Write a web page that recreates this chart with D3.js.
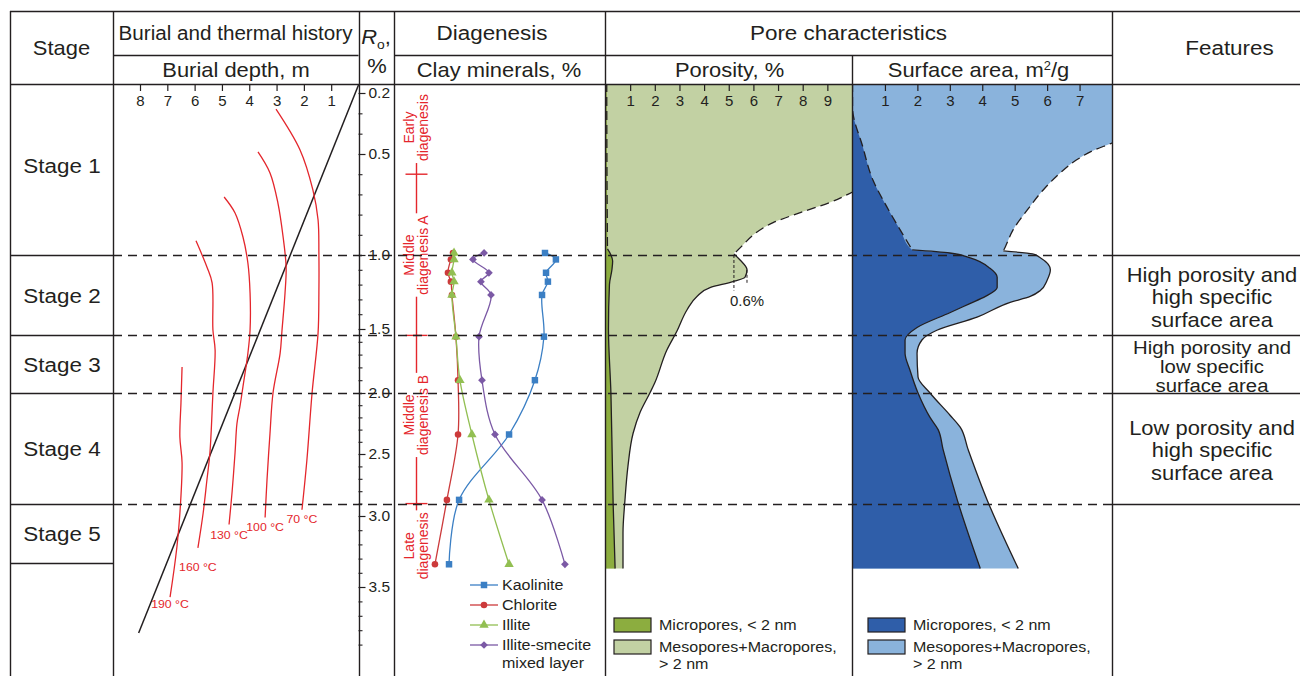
<!DOCTYPE html>
<html>
<head>
<meta charset="utf-8">
<script src="https://cdn.jsdelivr.net/npm/d3@7"></script>
<style>
  body { margin: 0; background: #fff; }
  svg { display: block; font-family: "Liberation Sans", Arial, sans-serif; }
</style>
</head>
<body>
<svg id="chart" width="1300" height="676"></svg>
<script>
// ---------- data ----------
const stageNames = ["Stage 1", "Stage 2", "Stage 3", "Stage 4", "Stage 5"];
const stageRo = [0.15, 1.0, 1.55, 2.0, 2.9, 3.33];
const features = [
  [],
  ["High porosity and", "high specific", "surface area"],
  ["High porosity and", "low specific", "surface area"],
  ["Low porosity and", "high specific", "surface area"],
  []
];

const roMajor = [0.2, 0.5, 1.0, 1.5, 2.0, 2.5, 3.0, 3.5];
const depthTicks = [1, 2, 3, 4, 5, 6, 7, 8];
const porosityTicks = [1, 2, 3, 4, 5, 6, 7, 8, 9];
const surfaceTicks = [1, 2, 3, 4, 5, 6, 7];

// burial curve, [depth, Ro]
const burialLine = [[0, 0.16], [8.05, 3.82]];

// isotherms, [depth, Ro]
const isotherms = [
  { label: "70 °C", labelRo: 3.02, pts: [[3.02, 0.279], [2.14, 0.48], [1.67, 0.678], [1.48, 0.827], [1.45, 0.99], [1.45, 1.257], [1.48, 1.53], [1.70, 2.0], [1.89, 2.55], [2.07, 2.95]] },
  { label: "100 °C", labelRo: 3.08, pts: [[3.68, 0.49], [3.24, 0.594], [2.95, 0.743], [2.76, 0.911], [2.65, 1.081], [2.69, 1.257], [2.80, 1.508], [2.87, 1.69], [3.13, 2.0], [3.24, 2.33], [3.35, 2.71], [3.42, 3.01]] },
  { label: "130 °C", labelRo: 3.135, pts: [[4.92, 0.713], [4.52, 0.792], [4.23, 0.911], [4.05, 1.054], [3.97, 1.257], [3.97, 1.508], [4.05, 1.69], [4.23, 1.95], [4.34, 2.11], [4.45, 2.25], [4.52, 2.49], [4.63, 2.81], [4.74, 3.06]] },
  { label: "160 °C", labelRo: 3.36, pts: [[5.95, 0.93], [5.55, 1.081], [5.36, 1.189], [5.33, 1.508], [5.25, 1.664], [5.33, 2.0], [5.44, 2.49], [5.55, 2.71], [5.69, 2.98], [5.88, 3.225]] },
  { label: "190 °C", labelRo: 3.62, pts: [[6.46, 1.797], [6.50, 2.08], [6.54, 2.36], [6.46, 2.57], [6.54, 2.98], [6.65, 3.22], [6.90, 3.57]] }
];

// diagenetic stages on the Ro scale
const diaStages = [
  { lines: ["Early", "diagenesis"], from: 0.2, to: 0.6, mid: 0.37 },
  { lines: ["Middle", "diagenesis A"], from: 0.6, to: 1.55, mid: 1.0 },
  { lines: ["Middle", "diagenesis B"], from: 1.55, to: 2.9, mid: 2.18 },
  { lines: ["Late", "diagenesis"], from: 2.9, to: 3.35, mid: 3.21 }
];
const diaBounds = [0.6, 1.55, 2.9];

// clay minerals, %
const clayRo = [0.99, 1.03, 1.12, 1.18, 1.27, 1.56, 1.90, 2.34, 2.87, 3.34];
const kaolinite = [53.8, 59.0, 54.3, 55.2, 52.4, 53.3, 49.0, 36.7, 12.9, 8.1];
const chlorite = [10.0, 9.0, 7.6, 9.0, 9.5, 11.4, 12.4, 12.4, 7.1, 1.4];
const illite = [10.5, 10.5, 9.5, 10.5, 9.5, 11.4, 13.3, 19.0, 27.1, 36.7];
const illiteSmectite = [24.8, 19.5, 27.1, 23.3, 28.1, 22.4, 23.8, 30.0, 52.4, 63.3];

// porosity, % : [Ro, value]
const porTotalInferred = [[0.15, 11.2], [0.62, 11.2], [0.69, 10], [0.74, 9.1], [0.79, 7.9], [0.84, 6.8], [0.90, 6.0], [0.955, 5.54], [0.995, 5.21]];
const porTotalMeasured = [[0.995, 5.21], [1.034, 5.46], [1.10, 5.74], [1.15, 5.66], [1.18, 5.17], [1.22, 4.24], [1.28, 3.71], [1.37, 3.31], [1.516, 2.9], [1.664, 2.49], [1.92, 2.0], [2.0, 1.8], [2.16, 1.4], [2.33, 1.12], [2.6, 0.91], [2.87, 0.79], [3.12, 0.71], [3.37, 0.71]];
const porMicroInferred = [[0.15, 0.05], [0.6, 0.06], [0.97, 0.08]];
const porMicroMeasured = [[0.97, 0.08], [1.0, 0.22], [1.04, 0.29], [1.1, 0.26], [1.2, 0.16], [1.5, 0.12], [2.0, 0.22], [2.5, 0.27], [2.9, 0.31], [3.37, 0.39]];
const bumpLeft = [5.21, 1.0, 1.24];   // value, Ro top, Ro bottom
const bumpRight = [5.74, 1.10, 1.19];

// surface area, m2/g : [Ro, value]
const saTotalInferred = [[0.15, 8.8], [0.38, 8.8], [0.446, 8.0], [0.48, 7.46], [0.53, 6.9], [0.594, 6.4], [0.678, 5.88], [0.777, 5.39], [0.876, 4.95], [0.96, 4.71], [0.98, 4.65]];
const saTotalMeasured = [[0.98, 4.65], [0.995, 5.55], [1.02, 5.8], [1.10, 6.1], [1.17, 6.0], [1.24, 5.79], [1.28, 5.48], [1.32, 4.86], [1.42, 3.84], [1.51, 2.60], [1.586, 2.14], [1.69, 1.99], [1.875, 2.02], [2.0, 2.39], [2.18, 3.0], [2.28, 3.32], [2.46, 3.56], [2.87, 4.15], [3.37, 5.11]];
const saMicroInferred = [[0.15, 0], [0.269, 0], [0.466, 0.32], [0.629, 0.63], [0.762, 1.06], [0.876, 1.47], [0.975, 1.84]];
const saMicroMeasured = [[0.975, 1.84], [0.99, 3.0], [1.02, 3.63], [1.09, 4.24], [1.15, 4.46], [1.22, 4.46], [1.28, 4.1], [1.33, 3.6], [1.39, 3.0], [1.49, 1.99], [1.586, 1.62], [1.69, 1.62], [1.82, 1.77], [2.0, 2.02], [2.20, 2.39], [2.30, 2.64], [2.46, 2.79], [2.87, 3.23], [3.37, 3.94]];

// ---------- layout ----------
const W = 1300, H = 676;
const ink = "#231f20";
const red = "#e4262c";
const SX = 1.07;   // the original lettering is a bit wide
const col = { left: 10, stage: 113, burial: 358.5, ro: 394, dia: 605, por: 852, sa: 1112, right: 1300 };
const rowTop = 11, rowMid = 55, rowBot = 84;

// Ro axis is not linear in the figure, so use a piecewise scale
const y = d3.scaleLinear()
  .domain([0.15, 0.2, 0.5, 1.0, 1.5, 2.0, 2.5, 3.0, 3.5, 4.0])
  .range([83, 93, 154, 255, 329, 393, 454, 516, 587, 659]);

const xDepth = d3.scaleLinear().domain([0, 8]).range([358.5, 140]);
const xClay = d3.scaleLinear().domain([0, 100]).range([432, 642]);
const xPor = d3.scaleLinear().domain([0, 10]).range([605.5, 852]);
const xSA = d3.scaleLinear().domain([0, 8]).range([852.5, 1112]);

// keep 1px rules sharp
const snap = v => Math.round(v) + 0.5;

const svg = d3.select("#chart");
svg.append("rect").attr("width", W).attr("height", H).attr("fill", "#fff");
const defs = svg.append("defs");

function txt(parent, x, yy, s, size, anchor = "middle", color = ink) {
  return parent.append("text")
    .attr("transform", `translate(${x},${yy}) scale(${SX},1)`)
    .attr("text-anchor", anchor)
    .attr("dy", "0.35em")
    .attr("font-size", size)
    .attr("fill", color)
    .text(s);
}

function clip(id, x0, x1) {
  defs.append("clipPath").attr("id", id).append("rect")
    .attr("x", x0).attr("y", rowBot).attr("width", x1 - x0).attr("height", H - rowBot);
  return `url(#${id})`;
}

// ---------- pore panels ----------
function porePanel(id, xs, x0, x1, total, micro, colors) {
  const g = svg.append("g").attr("clip-path", clip(id, x0, x1));
  const area = d3.area().curve(d3.curveMonotoneY)
    .y(d => y(d[0])).x0(xs(0)).x1(d => xs(d[1]));
  const line = d3.line().curve(d3.curveMonotoneY)
    .y(d => y(d[0])).x(d => xs(d[1]));
  const join = (a, b) => a.concat(b.slice(1));

  g.append("path").attr("d", area(join(total[0], total[1]))).attr("fill", colors[1]);
  g.append("path").attr("d", area(join(micro[0], micro[1]))).attr("fill", colors[0]);

  [total, micro].forEach(s => {
    g.append("path").attr("d", line(s[0]))
      .attr("fill", "none").attr("stroke", ink).attr("stroke-width", 1.3)
      .attr("stroke-dasharray", "9,5");
    g.append("path").attr("d", line(s[1]))
      .attr("fill", "none").attr("stroke", ink).attr("stroke-width", 1.3);
  });
  return g;
}

const porG = porePanel("clipPor", xPor, col.dia, col.por,
  [porTotalInferred, porTotalMeasured], [porMicroInferred, porMicroMeasured],
  ["#8cad3f", "#c2d1a3"]);
porePanel("clipSA", xSA, col.por, col.sa,
  [saTotalInferred, saTotalMeasured], [saMicroInferred, saMicroMeasured],
  ["#2f5ea9", "#8ab3dc"]);

// 0.6% annotation
[bumpLeft, bumpRight].forEach(b => {
  porG.append("line")
    .attr("x1", xPor(b[0])).attr("x2", xPor(b[0]))
    .attr("y1", y(b[1])).attr("y2", y(b[2]))
    .attr("stroke", ink).attr("stroke-width", 1).attr("stroke-dasharray", "3,2");
});
txt(svg, xPor(bumpLeft[0]) - 4, y(bumpLeft[2]) + 11, "0.6%", 14, "start");

// ---------- burial and thermal history ----------
const burial = svg.append("g");
burial.append("path")
  .attr("d", d3.line().x(d => xDepth(d[0])).y(d => y(d[1]))(burialLine))
  .attr("fill", "none").attr("stroke", ink).attr("stroke-width", 1.5);

const isoLine = d3.line().curve(d3.curveCatmullRom)
  .x(d => xDepth(d[0])).y(d => y(d[1]));
isotherms.forEach(iso => {
  burial.append("path").attr("d", isoLine(iso.pts))
    .attr("fill", "none").attr("stroke", red).attr("stroke-width", 1.3);
  const last = iso.pts[iso.pts.length - 1];
  txt(burial, xDepth(last[0]), y(iso.labelRo), iso.label, 11.5, "middle", red);
});

// ---------- diagenesis ----------
const dia = svg.append("g");
const diaX = 416.5;
diaStages.forEach(st => {
  const g = dia.append("g").attr("transform", `translate(${diaX},${y(st.mid)}) rotate(-90)`);
  let len = 0;
  st.lines.forEach((l, i) => {
    const t = g.append("text")
      .attr("x", 0).attr("y", i === 0 ? -3 : 11)
      .attr("text-anchor", "middle")
      .attr("font-size", 14).attr("fill", red)
      .text(l);
    len = Math.max(len, t.node().getComputedTextLength());
  });
  const top = y(st.mid) - len / 2 - 2, bot = y(st.mid) + len / 2 + 2;
  if (top > y(st.from)) {
    dia.append("line").attr("x1", diaX).attr("x2", diaX).attr("y1", y(st.from)).attr("y2", top)
      .attr("stroke", red).attr("stroke-width", 1.4);
  }
  if (bot < y(st.to)) {
    dia.append("line").attr("x1", diaX).attr("x2", diaX).attr("y1", bot).attr("y2", y(st.to))
      .attr("stroke", red).attr("stroke-width", 1.4);
  }
});
diaBounds.forEach(r => {
  dia.append("line").attr("x1", diaX - 11).attr("x2", diaX + 11).attr("y1", y(r)).attr("y2", y(r))
    .attr("stroke", red).attr("stroke-width", 1.4);
});

// clay minerals
const claySeries = [
  { name: ["Kaolinite"], values: kaolinite, color: "#3b7fc4", symbol: d3.symbolSquare, size: 42, rot: 0 },
  { name: ["Chlorite"], values: chlorite, color: "#cc3a3b", symbol: d3.symbolCircle, size: 34, rot: 0 },
  { name: ["Illite"], values: illite, color: "#92bf52", symbol: d3.symbolTriangle, size: 38, rot: 0 },
  { name: ["Illite-smecite", "mixed layer"], values: illiteSmectite, color: "#7b59a5", symbol: d3.symbolSquare, size: 30, rot: 45 }
];
const clayLine = d3.line().curve(d3.curveCatmullRom)
  .x(d => xClay(d[1])).y(d => y(d[0]));
claySeries.forEach((s, k) => {
  const pts = clayRo.map((r, i) => [r, s.values[i]]);
  dia.append("path").attr("d", clayLine(pts))
    .attr("fill", "none").attr("stroke", s.color).attr("stroke-width", 1.3);
  dia.selectAll(null).data(pts).enter().append("path")
    .attr("d", d3.symbol().type(s.symbol).size(s.size))
    .attr("transform", d => `translate(${xClay(d[1])},${y(d[0])}) rotate(${s.rot})`)
    .attr("fill", s.color);

  // legend
  const ly = 585 + k * 20;
  dia.append("line").attr("x1", 470).attr("x2", 498).attr("y1", ly).attr("y2", ly)
    .attr("stroke", s.color).attr("stroke-width", 1.3);
  dia.append("path").attr("d", d3.symbol().type(s.symbol).size(s.size))
    .attr("transform", `translate(484,${ly}) rotate(${s.rot})`).attr("fill", s.color);
  s.name.forEach((n, i) => txt(dia, 502, ly + i * 18, n, 15, "start"));
});

// ---------- stage boundaries ----------
const frame = svg.append("g").attr("stroke", ink).attr("fill", "none");
stageRo.slice(1, -1).forEach(r => {
  frame.append("line").attr("x1", col.stage).attr("x2", col.sa)
    .attr("y1", snap(y(r))).attr("y2", snap(y(r)))
    .attr("stroke-width", 1.3).attr("stroke-dasharray", "9,6");
});

const hline = (x1, x2, yy) => frame.append("line").attr("x1", x1).attr("x2", x2)
  .attr("y1", snap(yy)).attr("y2", snap(yy)).attr("stroke-width", 1.4);
const vline = (xx, y1, y2) => frame.append("line").attr("x1", snap(xx)).attr("x2", snap(xx))
  .attr("y1", y1).attr("y2", y2).attr("stroke-width", 1.4);

hline(col.left, col.right, rowTop);
hline(col.stage, col.burial, rowMid);
hline(col.ro, col.sa, rowMid);
hline(col.left, col.right, rowBot);
[col.left, col.stage, col.burial, col.ro, col.dia, col.sa].forEach(x => vline(x, rowTop, H));
vline(col.por, rowMid, H);
stageRo.slice(1).forEach(r => hline(col.left, col.stage, y(r)));
stageRo.slice(1, -1).forEach(r => hline(col.sa, col.right, y(r)));

// ---------- axes ----------
function topAxis(scale, ticks) {
  const a = svg.append("g").attr("transform", `translate(0,${rowBot})`)
    .call(d3.axisBottom(scale).tickValues(ticks).tickSize(7).tickPadding(4).tickFormat(d3.format("d")));
  a.select(".domain").remove();
  a.selectAll("line").attr("stroke", ink).attr("stroke-width", 1.2);
  a.selectAll("text").attr("font-size", 15).attr("fill", ink)
    .attr("font-family", "Liberation Sans, Arial, sans-serif");
}
topAxis(xDepth, depthTicks);
topAxis(xPor, porosityTicks);
topAxis(xSA, surfaceTicks);

const roMinor = d3.range(2, 40).map(i => i / 10).filter(v => !roMajor.some(m => Math.abs(m - v) < 1e-6));
const roMinorAxis = svg.append("g").attr("transform", `translate(${col.burial},0)`)
  .call(d3.axisRight(y).tickValues(roMinor).tickSize(4).tickFormat(""));
roMinorAxis.select(".domain").remove();
roMinorAxis.selectAll("line").attr("stroke", ink).attr("stroke-width", 1.1);

const roAxis = svg.append("g").attr("transform", `translate(${col.burial},0)`)
  .call(d3.axisRight(y).tickValues(roMajor).tickSize(7).tickPadding(3).tickFormat(d3.format(".1f")));
roAxis.select(".domain").remove();
roAxis.selectAll("line").attr("stroke", ink).attr("stroke-width", 1.2);
roAxis.selectAll("text").attr("font-size", 15.5).attr("fill", ink)
  .attr("font-family", "Liberation Sans, Arial, sans-serif");

// ---------- header ----------
txt(svg, 61.5, 48, "Stage", 20.5);
txt(svg, 235.5, 33, "Burial and thermal history", 19.3);
txt(svg, 236, 70, "Burial depth, m", 20.5);
const roHead = svg.append("text")
  .attr("transform", `translate(376,37) scale(${SX},1)`)
  .attr("text-anchor", "middle").attr("dy", "0.35em").attr("font-size", 20.5).attr("fill", ink);
roHead.append("tspan").attr("font-style", "italic").text("R");
roHead.append("tspan").attr("font-size", 13).attr("dy", 5).text("o");
roHead.append("tspan").attr("dy", -5).text(",");
txt(svg, 377, 66, "%", 20.5);
txt(svg, 492, 33, "Diagenesis", 21);
txt(svg, 499, 70, "Clay minerals, %", 20.5);
txt(svg, 848.5, 33, "Pore characteristics", 21);
txt(svg, 729.5, 70, "Porosity, %", 20.5);
const saHead = svg.append("text")
  .attr("transform", `translate(978.5,70) scale(${SX},1)`)
  .attr("text-anchor", "middle").attr("dy", "0.35em").attr("font-size", 20.5).attr("fill", ink);
saHead.append("tspan").text("Surface area, m");
saHead.append("tspan").attr("font-size", 12).attr("dy", -7).text("2");
saHead.append("tspan").attr("dy", 7).text("/g");
txt(svg, 1229.5, 48, "Features", 21);

// ---------- stage labels and features ----------
stageNames.forEach((s, i) => {
  const y0 = i === 0 ? rowBot : y(stageRo[i]);
  const y1 = y(stageRo[i + 1]);
  const cy = (y0 + y1) / 2;
  txt(svg, 62, i === 0 ? cy - 4 : cy, s, 21);
  const lines = features[i];
  if (lines.length) {
    // the short Stage 3 cell packs its lines tighter, as in the original
    const gap = Math.min(22.5, (y1 - y0) / lines.length);
    const size = gap < 22 ? 19 : 20.5;
    lines.forEach((l, j) => txt(svg, 1212, cy + (j - (lines.length - 1) / 2) * gap + 2, l, size));
  }
});

// ---------- pore legends ----------
function poreLegend(x, colors) {
  const items = [["Micropores, < 2 nm"], ["Mesopores+Macropores,", "> 2 nm"]];
  items.forEach((it, i) => {
    const sy = 618 + i * 22;
    svg.append("rect").attr("x", x).attr("y", sy).attr("width", 37).attr("height", 14)
      .attr("fill", colors[i]).attr("stroke", ink).attr("stroke-width", 1.2);
    it.forEach((t, j) => txt(svg, x + 45, sy + 7 + j * 17, t, 15, "start"));
  });
}
poreLegend(614, ["#8cad3f", "#c2d1a3"]);
poreLegend(868, ["#2f5ea9", "#8ab3dc"]);
</script>
</body>
</html>
